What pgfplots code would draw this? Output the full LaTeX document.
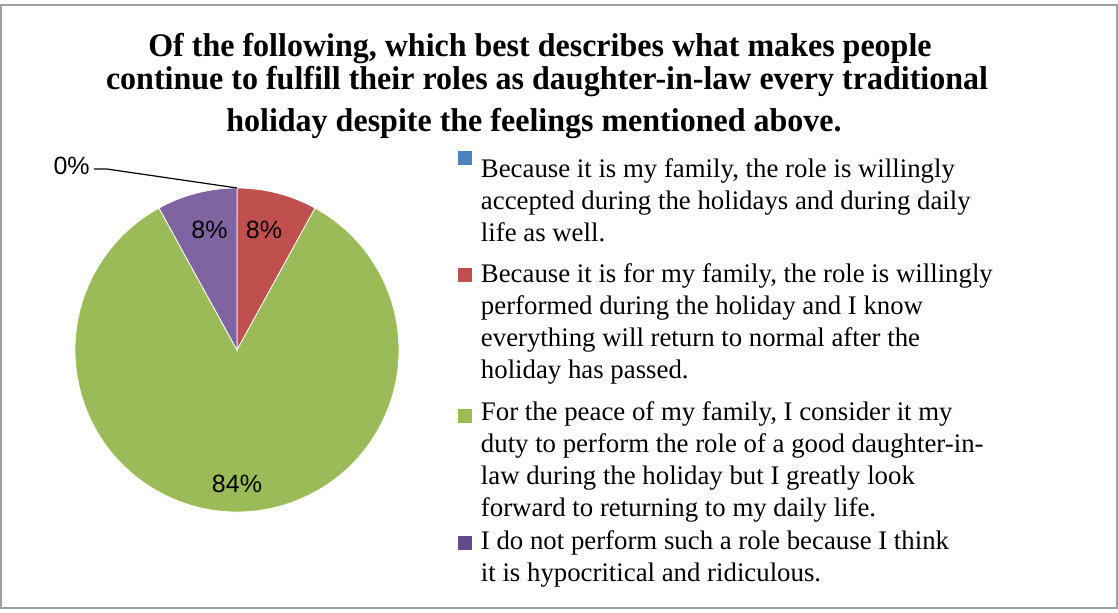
\documentclass[border=0pt]{standalone}
\usepackage{pgfplots}
\pgfplotsset{compat=1.18}
\usepackage{pgfplotstable}
\usepackage{fontspec}
\setmainfont{Liberation Serif}
\newfontfamily\titlefont[FakeStretch=0.97]{Liberation Serif}
\newfontfamily\labfont{Liberation Sans}
\definecolor{pieblue}{HTML}{4F81BD}
\definecolor{piered}{HTML}{C0504D}
\definecolor{piegreen}{HTML}{9BBB59}
\definecolor{piepurple}{HTML}{8064A2}
\definecolor{legpurple}{HTML}{604A8C}
\definecolor{framegray}{HTML}{A0A0A0}
\newcommand\lgent[2]{\raisebox{\depth}{\parbox[b]{270pt}{\fontsize{13.4}{16}\selectfont\raggedright\strut #2\rule[-\dimexpr 4.8pt+#1\relax]{0pt}{1pt}}}}
\pgfplotstableread{
value col
0 pieblue
8 piered
84 piegreen
8 piepurple
}\piedata
\pgfplotstablecreatecol[create col/expr accum={\pgfmathaccuma - 3.6*\thisrow{value}}{90}]{endang}\piedata
\begin{document}
\begin{tikzpicture}
\begin{scope}[x=0.5pt,y=-0.5pt,shift={(-118.5pt,175pt)}]
  \path (0,0) rectangle (1118,613);
  \draw[framegray,line width=1pt] (1,5) rectangle (1117,608);
  \node[font=\titlefont\bfseries\fontsize{16.5}{16.5}\selectfont,anchor=base] at (540,57) {Of the following, which best describes what makes people};
  \node[font=\titlefont\bfseries\fontsize{16.5}{16.5}\selectfont,anchor=base] at (547,90) {continue to fulfill their roles as daughter-in-law every traditional};
  \node[font=\titlefont\bfseries\fontsize{16.5}{16.5}\selectfont,anchor=base] at (534,132) {holiday despite the feelings mentioned above.};
\end{scope}
\begin{axis}[
  at={(0,0)}, anchor=origin,
  hide axis, scale only axis,
  x=81pt, y=81pt,
  xmin=-1, xmax=1, ymin=-1, ymax=1,
  clip=false,
  legend style={draw=none, fill=none, inner sep=0pt, outer sep=0pt,
    at={(axis cs:1.364,1.206)}, anchor=north west,
    nodes={inner sep=0pt, outer sep=0pt},
    row sep=0pt, column sep=4.5pt},
  legend cell align=left,
]
\pgfplotsinvokeforeach{0,...,3}{
  \pgfplotstablegetelem{#1}{value}\of\piedata \let\v\pgfplotsretval
  \pgfplotstablegetelem{#1}{endang}\of\piedata \let\e\pgfplotsretval
  \pgfplotstablegetelem{#1}{col}\of\piedata \let\c\pgfplotsretval
  \pgfmathsetmacro{\s}{\e+3.6*\v}
  \edef\temp{\noexpand\fill[\c, draw=white, line width=0.4pt] (axis cs:0,0) -- (axis cs:{cos(\s)},{sin(\s)}) arc[start angle=\s, end angle=\e, radius=81pt] -- cycle;}
  \temp
}
\addlegendimage{legend image code/.code={\path[draw=none,fill=none] (0pt,0pt) rectangle (7pt,0pt); \fill[pieblue, draw=none, overlay] (0pt,21.3pt) rectangle (7pt,28.3pt);}}
\addlegendentry{\lgent{3pt}{Because it is my family, the role is willingly\\ accepted during the holidays and during daily\\ life as well.}}
\addlegendimage{legend image code/.code={\path[draw=none,fill=none] (0pt,0pt) rectangle (7pt,0pt); \fill[piered, draw=none, overlay] (0pt,23.3pt) rectangle (7pt,30.3pt);}}
\addlegendentry{\lgent{3.5pt}{Because it is for my family, the role is willingly\\ performed during the holiday and I know\\ everything will return to normal after the\\ holiday has passed.}}
\addlegendimage{legend image code/.code={\path[draw=none,fill=none] (0pt,0pt) rectangle (7pt,0pt); \fill[piegreen, draw=none, overlay] (0pt,19.8pt) rectangle (7pt,26.8pt);}}
\addlegendentry{\lgent{-1pt}{For the peace of my family, I consider it my\\ duty to perform the role of a good daughter-in-\\ law during the holiday but I greatly look\\ forward to returning to my daily life.}}
\addlegendimage{legend image code/.code={\path[draw=none,fill=none] (0pt,0pt) rectangle (7pt,0pt); \fill[legpurple, draw=none, overlay] (0pt,5.3pt) rectangle (7pt,12.3pt);}}
\addlegendentry{\lgent{0pt}{I do not perform such a role because I think\\ it is hypocritical and ridiculous.}}
\node[font=\labfont\fontsize{12.5}{12.5}\selectfont] at (axis cs:0.167,0.74) {8\%};
\node[font=\labfont\fontsize{12.5}{12.5}\selectfont] at (axis cs:-0.17,0.74) {8\%};
\node[font=\labfont\fontsize{12.5}{12.5}\selectfont] at (axis cs:0,-0.827) {84\%};
\node[font=\labfont\fontsize{12.5}{12.5}\selectfont, anchor=east, inner sep=0pt] at (axis cs:-0.907,1.135) {0\%};
\draw[black, line width=0.6pt] (axis cs:-0.883,1.117) -- (axis cs:-0.802,1.117) -- (axis cs:0,1.0);
\end{axis}
\end{tikzpicture}
\end{document}
